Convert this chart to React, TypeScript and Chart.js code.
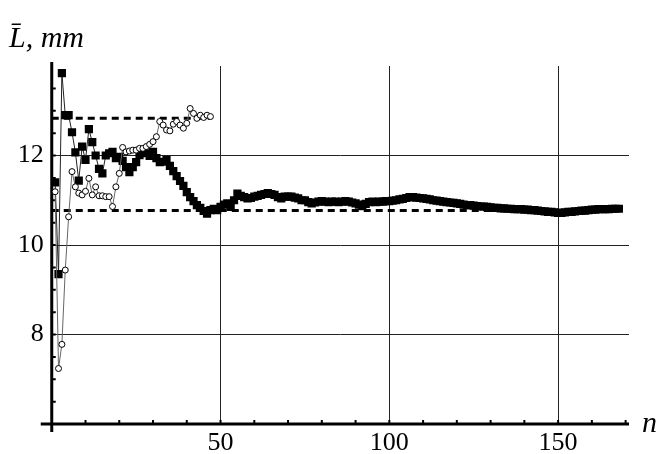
import React, { useEffect, useRef } from "react";
import { Chart, registerables } from "chart.js";

Chart.register(...registerables);

// Running mean L̄ (mm) versus n — filled squares series
const squareSeries = [
  11.4, 9.35, 13.84, 12.9, 12.9, 12.52, 12.07, 11.44, 12.2, 11.9,
  12.59, 12.3, 12.0, 11.7, 11.6, 12.0, 12.05, 12.08, 11.94, 11.97,
  11.88, 11.74, 11.63, 11.74, 11.85, 12.01, 12.12, 12.05, 11.99, 12.08,
  11.94, 11.85, 11.86, 11.9, 11.77, 11.65, 11.54, 11.43, 11.32, 11.18,
  11.07, 10.98, 10.89, 10.83, 10.76, 10.7, 10.78, 10.81, 10.78, 10.85,
  10.9, 10.93, 10.85, 11.0, 11.15, 11.1, 11.07, 11.04, 11.05, 11.08,
  11.1, 11.12, 11.14, 11.16, 11.14, 11.12, 11.07, 11.04, 11.08, 11.08,
  11.08, 11.06, 11.04, 11.0, 11.0, 10.96, 10.93,
  10.95, 10.97, 10.98, 10.97, 10.96, 10.97, 10.97, 10.96, 10.97, 10.98,
  10.97, 10.95, 10.93, 10.9, 10.87, 10.92, 10.96, 10.97, 10.96, 10.97,
  10.97, 10.98, 10.98, 10.99, 11.0, 11.02, 11.03, 11.05, 11.07, 11.07,
  11.06, 11.05, 11.04, 11.03, 11.02, 11.0, 10.99, 10.98, 10.97, 10.96,
  10.95, 10.94, 10.93, 10.92, 10.9, 10.89, 10.89, 10.88, 10.87, 10.86,
  10.86, 10.85, 10.84, 10.83, 10.83, 10.82, 10.82, 10.81, 10.81, 10.8,
  10.8, 10.8, 10.79, 10.79, 10.78, 10.78, 10.77, 10.76, 10.75, 10.74,
  10.74, 10.73, 10.72, 10.72, 10.73, 10.74, 10.74, 10.75, 10.76, 10.77,
  10.77, 10.78, 10.79, 10.79, 10.8, 10.8, 10.8, 10.8, 10.81, 10.81,
  10.81,
];

// Open circles series
const circleSeries = [
  11.19, 7.24, 7.78, 9.44, 10.63, 11.64, 11.3, 11.16, 11.12, 11.2,
  11.49, 11.12, 11.3, 11.1, 11.1, 11.08, 11.08, 10.86, 11.3, 11.6,
  12.18, 12.08, 12.1, 12.12, 12.12, 12.16, 12.16, 12.2, 12.25, 12.31,
  12.42, 12.76, 12.68, 12.57, 12.55, 12.7, 12.76, 12.68, 12.61, 12.72,
  13.05, 12.94, 12.83, 12.9, 12.85, 12.9, 12.87,
];

// Dashed reference levels
const upperLevel = 12.83;
const upperLevelEnd = 47;
const lowerLevel = 10.77;
const lowerLevelEnd = 168;

const xTickLabels = [50, 100, 150];
const yTickLabels = [8, 10, 12];
const xMinorStep = 10;
const yMinorStep = 0.5;
const X_MIN = 0;
const X_MAX = 171;
const Y_MIN = 6;
const Y_MAX = 14;

const toPoints = (vals: number[]) => vals.map((y, i) => ({ x: i + 1, y }));

const SERIF = '"Liberation Serif", "Times New Roman", serif';

const axesPlugin = {
  id: "mmaAxes",
  beforeDatasetsDraw(chart: any) {
    const { ctx, chartArea, scales } = chart;
    const xs = scales.x;
    const ys = scales.y;
    const x0 = xs.getPixelForValue(X_MIN);
    const y0 = ys.getPixelForValue(Y_MIN);
    ctx.save();
    ctx.strokeStyle = "#000";
    ctx.lineWidth = 3;
    ctx.beginPath();
    ctx.moveTo(chartArea.left - 11, y0);
    ctx.lineTo(chartArea.right, y0);
    ctx.moveTo(x0, chartArea.top - 4);
    ctx.lineTo(x0, y0 + 8);
    ctx.stroke();
    ctx.lineWidth = 2;
    ctx.beginPath();
    for (let v = xMinorStep; v < X_MAX; v += xMinorStep) {
      const px = xs.getPixelForValue(v);
      ctx.moveTo(px, y0);
      ctx.lineTo(px, y0 - 4);
    }
    for (let v = Y_MIN + yMinorStep; v < Y_MAX; v += yMinorStep) {
      const py = ys.getPixelForValue(v);
      ctx.moveTo(x0, py);
      ctx.lineTo(x0 + 4, py);
    }
    ctx.stroke();
    ctx.restore();
  },
  afterDraw(chart: any) {
    const { ctx, chartArea } = chart;
    ctx.save();
    ctx.fillStyle = "#000";
    ctx.font = `italic 30px ${SERIF}`;
    ctx.textAlign = "left";
    ctx.textBaseline = "alphabetic";
    ctx.fillText("L\u0304, mm", 9, 47);
    ctx.fillText("n", chartArea.right + 13, chartArea.bottom + 8);
    ctx.restore();
  },
};

export default function App() {
  const canvasRef = useRef<HTMLCanvasElement | null>(null);

  useEffect(() => {
    if (!canvasRef.current) return;
    const chart = new Chart(canvasRef.current, {
      type: "line",
      data: {
        datasets: [
          {
            label: "circles",
            data: toPoints(circleSeries),
            borderColor: "#666",
            borderWidth: 1,
            pointStyle: "circle",
            pointRadius: 3,
            pointBackgroundColor: "#fff",
            pointBorderColor: "#000",
            pointBorderWidth: 1,
            tension: 0,
          },
          {
            label: "squares",
            data: toPoints(squareSeries),
            borderColor: "#222",
            borderWidth: 1,
            pointStyle: "rect",
            pointRadius: 5.8,
            pointBackgroundColor: "#000",
            pointBorderColor: "#000",
            pointBorderWidth: 0,
            tension: 0,
          },
          {
            label: "upper",
            data: [
              { x: X_MIN, y: upperLevel },
              { x: upperLevelEnd, y: upperLevel },
            ],
            borderColor: "#000",
            borderWidth: 3,
            borderDash: [7, 5],
            pointRadius: 0,
          },
          {
            label: "lower",
            data: [
              { x: X_MIN, y: lowerLevel },
              { x: lowerLevelEnd, y: lowerLevel },
            ],
            borderColor: "#000",
            borderWidth: 3,
            borderDash: [7, 5],
            pointRadius: 0,
          },
        ],
      },
      options: {
        animation: false,
        responsive: true,
        maintainAspectRatio: false,
        layout: { padding: { top: 66, right: 31, left: 0, bottom: 0 } },
        plugins: {
          legend: { display: false },
          tooltip: { enabled: false },
          title: { display: false },
        },
        elements: { line: { fill: false } },
        scales: {
          x: {
            type: "linear",
            min: X_MIN,
            max: X_MAX,
            border: { display: false },
            grid: {
              drawTicks: false,
              lineWidth: 1,
              color: (c: any) =>
                c.tick && xTickLabels.includes(c.tick.value) ? "#222" : "rgba(0,0,0,0)",
            },
            ticks: {
              stepSize: 50,
              includeBounds: false,
              autoSkip: false,
              maxRotation: 0,
              padding: 4,
              color: "#000",
              font: { family: SERIF, size: 26 },
              callback: (v: any) => (xTickLabels.includes(Number(v)) ? String(v) : ""),
            },
            afterFit: (s: any) => {
              s.height = 30;
            },
          },
          y: {
            type: "linear",
            min: Y_MIN,
            max: Y_MAX,
            border: { display: false },
            grid: {
              drawTicks: false,
              lineWidth: 1,
              color: (c: any) =>
                c.tick && yTickLabels.includes(c.tick.value) ? "#222" : "rgba(0,0,0,0)",
            },
            ticks: {
              stepSize: 2,
              autoSkip: false,
              padding: 8,
              color: "#000",
              font: { family: SERIF, size: 26 },
              callback: (v: any) => (yTickLabels.includes(Number(v)) ? String(v) : ""),
            },
            afterFit: (s: any) => {
              s.width = 51.75;
            },
          },
        },
      },
      plugins: [axesPlugin],
    });
    return () => chart.destroy();
  }, []);

  return (
    <div
      style={{
        position: "fixed",
        left: 0,
        top: 0,
        width: 660,
        height: 454,
        background: "#fff",
      }}
    >
      <canvas ref={canvasRef} />
    </div>
  );
}
